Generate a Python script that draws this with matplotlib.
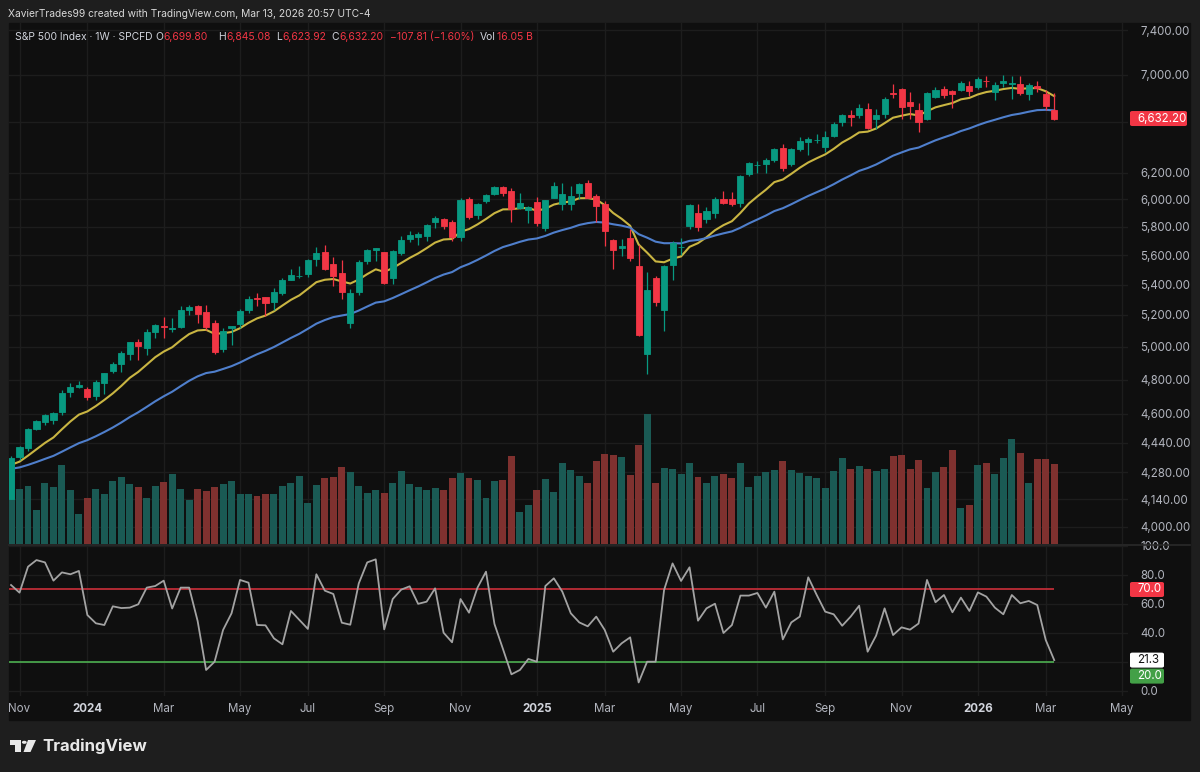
import numpy as np
import pandas as pd
import matplotlib
matplotlib.use("Agg")
import matplotlib.pyplot as plt
from matplotlib.patches import Rectangle, FancyBboxPatch, Circle, Polygon
from matplotlib.ticker import FixedLocator, NullLocator, FixedFormatter
from matplotlib.lines import Line2D

plt.rcParams['font.family'] = ['Inter', 'DejaVu Sans']

# ---------------- data (weekly S&P 500, week starting 2023-10-30) ----------------
start_date = "2023-10-30"
opens = [4140, 4364, 4411, 4515, 4554, 4564, 4610, 4725, 4759, 4745,
         4703, 4782, 4853, 4892, 4957, 5027, 4989, 5093, 5131, 5111,
         5123, 5235, 5258, 5217, 5150, 4988, 5114, 5142, 5233, 5308,
         5315, 5283, 5341, 5432, 5459.6, 5471, 5572, 5620, 5537, 5476,
         5151, 5353, 5557, 5637, 5623, 5442, 5615, 5711, 5726, 5737,
         5833, 5857, 5833, 5725, 6003, 5883, 5992, 6040, 6090, 6063,
         5940, 5920, 5982, 5788, 6014, 5969, 5969, 6050, 6121, 6026,
         5969, 5705, 5647, 5718, 5527, 4954, 5441, 5232, 5529, 5655,
         5807, 5903, 5854, 5897, 6005, 6005, 5970, 6193, 6259, 6268,
         6304, 6397, 6271, 6389, 6445, 6457, 6401, 6490, 6600, 6660,
         6660, 6715, 6625, 6673, 6846, 6875, 6770, 6700, 6632, 6815,
         6877, 6860, 6868, 6905, 6895, 6950, 6857, 6927, 6925, 6920,
         6836, 6902, 6840, 6699.80]
highs = [4366, 4421, 4521, 4568, 4599, 4609, 4739, 4779, 4793, 4755,
         4798, 4842, 4907, 4975, 5030, 5048, 5111, 5140, 5189, 5179,
         5261, 5265, 5265, 5263, 5168, 5114, 5129, 5239, 5325, 5342,
         5315, 5375, 5447, 5505, 5524, 5570, 5655, 5670, 5585, 5566,
         5370, 5563, 5643, 5651, 5623, 5636, 5733, 5767, 5765, 5822,
         5878, 5863, 5850, 6012, 6018, 5976, 6044, 6099, 6100, 6085,
         6049, 5949, 6021, 5997, 6128, 6120, 6101, 6127, 6147, 6044,
         5987, 5712, 5715, 5787, 5670, 5481, 5459, 5534, 5700, 5720,
         5968, 5969, 5944, 6016, 6060, 6059, 6187, 6284, 6290, 6316,
         6395, 6427, 6395, 6481, 6480, 6508, 6532, 6601, 6672, 6699,
         6750, 6764, 6710, 6808, 6920, 6890, 6855, 6760, 6853, 6895,
         6901, 6870, 6945, 6945, 6986, 6990, 6935, 7002, 6990, 6988,
         6930, 6950, 6870, 6845.08]
lows = [4138, 4343, 4394, 4511, 4537, 4546, 4594, 4700, 4751, 4683,
        4682, 4714, 4842, 4845, 4918, 4920, 4946, 5057, 5057, 5091,
        5117, 5203, 5147, 5107, 4953, 4969, 5011, 5115, 5212, 5257,
        5191, 5234, 5328, 5428, 5447, 5448, 5528, 5497, 5390, 5302,
        5119, 5331, 5540, 5561, 5402, 5406, 5604, 5690, 5674, 5696,
        5792, 5786, 5696, 5697, 5853, 5853, 5973, 6030, 6024, 5832,
        5932, 5829, 5809, 5773, 6012, 5923, 5923, 6003, 6008, 5837,
        5666, 5505, 5597, 5558, 5069, 4835, 5259, 5101, 5433, 5599,
        5786, 5767, 5825, 5861, 5963, 5952, 5943, 6174, 6201, 6201,
        6281, 6212, 6254, 6372, 6343, 6432, 6360, 6480, 6570, 6570,
        6640, 6550, 6550, 6640, 6800, 6631, 6631, 6521, 6620, 6800,
        6800, 6720, 6860, 6822, 6880, 6900, 6785, 6900, 6795, 6830,
        6790, 6850, 6700, 6623.92]
closes = [4358, 4415, 4514, 4559, 4595, 4604, 4719, 4755, 4770, 4697,
          4784, 4840, 4891, 4959, 5027, 5006, 5089, 5137, 5124, 5117,
          5234, 5254, 5204, 5123, 4967, 5100, 5128, 5223, 5303, 5305,
          5278, 5347, 5432, 5465, 5460.5, 5567, 5615, 5505, 5459, 5347,
          5344, 5554, 5635, 5648, 5408, 5626, 5703, 5738, 5751, 5815,
          5864, 5808, 5729, 5995, 5870, 5969, 6032, 6090, 6051, 5931,
          5971, 5942, 5827, 5997, 6101, 6040, 6026, 6115, 6013, 5955,
          5770, 5639, 5667, 5581, 5074, 5363, 5283, 5525, 5687, 5660,
          5958, 5802, 5912, 6000, 5977, 5968, 6173, 6279, 6260, 6297,
          6389, 6238, 6389, 6450, 6467, 6460, 6482, 6584, 6664, 6644,
          6716, 6553, 6664, 6792, 6840, 6728, 6734, 6603, 6849, 6870,
          6827, 6840, 6930, 6858, 6966, 6944, 6913, 6944, 6932, 6843,
          6912, 6890, 6740.01, 6632.20]
volume_b = [16.0, 11.0, 11.7, 6.8, 12.2, 11.5, 16.0, 10.9, 6.1, 9.2,
            11.0, 10.0, 12.6, 13.4, 12.1, 11.5, 9.3, 11.7, 12.5, 14.0,
            11.0, 8.8, 11.0, 10.7, 11.5, 12.0, 12.6, 10.1, 10.1, 9.7,
            10.1, 10.0, 11.7, 12.2, 13.7, 8.2, 11.9, 13.2, 13.5, 15.6,
            14.6, 11.7, 10.2, 10.8, 10.3, 12.3, 14.7, 12.0, 11.5, 10.8,
            11.3, 10.9, 13.2, 14.4, 13.2, 12.9, 9.3, 12.6, 12.9, 17.7,
            6.5, 7.9, 10.8, 13.0, 10.5, 16.4, 15.0, 13.7, 12.3, 16.7,
            18.1, 17.9, 17.5, 13.8, 19.9, 26.1, 12.3, 15.4, 15.2, 14.0,
            16.4, 13.4, 12.3, 13.7, 14.0, 13.2, 16.4, 11.5, 13.7, 14.6,
            14.9, 16.7, 14.9, 14.4, 13.7, 13.2, 11.3, 14.7, 17.4, 15.2,
            15.7, 15.2, 14.7, 15.2, 17.7, 17.9, 15.2, 16.9, 11.3, 14.5,
            15.5, 18.9, 7.3, 7.9, 15.9, 16.4, 14.0, 17.4, 21.1, 18.3,
            12.3, 17.2, 17.1, 16.05]
rsi = [73.1, 67.8, 85.7, 90.3, 88.7, 76.1, 81.8, 80.5, 82.8, 52.4,
       46.7, 45.5, 58.4, 57.2, 57.5, 59.8, 71.3, 72.4, 76.1, 56.9,
       71.3, 71.3, 48.3, 14.5, 20.2, 42.1, 53.6, 76.6, 74.7, 45.5,
       45.3, 36.3, 32.2, 55.2, 49.0, 42.8, 80.5, 69.2, 66.9, 47.1,
       45.7, 74.2, 88.7, 90.8, 42.5, 63.4, 69.9, 72.2, 60.1, 61.6,
       70.8, 40.2, 33.6, 63.4, 54.0, 71.3, 82.3, 46.2, 29.0, 11.5,
       14.5, 22.1, 20.2, 72.4, 77.7, 68.5, 53.6, 47.3, 44.6, 51.3,
       42.1, 27.1, 32.9, 37.0, 5.9, 20.2, 20.2, 69.7, 88.0, 75.9,
       85.3, 48.5, 57.0, 60.2, 40.0, 45.5, 65.8, 65.8, 67.6, 57.5,
       68.5, 35.6, 47.3, 51.3, 78.4, 66.2, 54.7, 52.9, 45.0, 51.3,
       58.8, 27.1, 38.2, 57.0, 38.6, 43.9, 42.3, 46.5, 76.6, 61.2,
       66.2, 54.3, 64.4, 55.2, 68.0, 65.1, 57.5, 52.9, 66.2, 60.5,
       62.1, 59.3, 35.2, 21.3]
ema_fast_start = 4319.0   # 10-week EMA value at first bar
ema_slow_start = 4298.0   # 30-week EMA value at first bar

price_ticks = [4000, 4140, 4280, 4440, 4600, 4800, 5000, 5200, 5400, 5600,
               5800, 6000, 6200, 6600, 7000, 7400]
rsi_ticks = [0, 20, 40, 60, 80, 100]
month_labels = ["Nov", "2024", "Mar", "May", "Jul", "Sep", "Nov", "2025",
                "Mar", "May", "Jul", "Sep", "Nov", "2026", "Mar", "May"]
month_dates = ["2023-11-01", "2024-01-01", "2024-03-01", "2024-05-01",
               "2024-07-01", "2024-09-01", "2024-11-01", "2025-01-01",
               "2025-03-01", "2025-05-01", "2025-07-01", "2025-09-01",
               "2025-11-01", "2026-01-01", "2026-03-01", "2026-05-01"]

# ---------------- helpers ----------------
W, H, DPI = 1200, 772, 100
BG = "#0f0f0f"
FRAME = "#1e1e1e"
UP, DN = "#089981", "#f23645"
VUP, VDN = "#1a5a54", "#7f312f"
TXT = "#b2b5be"
LT = "#d1d4dc"


def rect(x0, y0, x1, y1):
    return [x0 / W, 1 - y1 / H, (x1 - x0) / W, (y1 - y0) / H]


def ema(vals, span, first):
    a = 2.0 / (span + 1)
    out = [first]
    for v in vals[1:]:
        out.append(out[-1] + a * (v - out[-1]))
    return np.array(out)


n = len(closes)
x = np.arange(n)
o = np.array(opens, float)
h = np.array(highs, float)
l = np.array(lows, float)
c = np.array(closes, float)
up = c >= o

start = pd.Timestamp(start_date)
tick_pos = np.ceil((pd.to_datetime(month_dates) - start).days.values / 7.0)

fig = plt.figure(figsize=(W / DPI, H / DPI), dpi=DPI)
fig.patch.set_facecolor(FRAME)
fig.add_artist(Rectangle((8.5 / W, 1 - 720 / H), (1190 - 8.5) / W, (720 - 23) / H,
                         transform=fig.transFigure, color=BG, zorder=0))
renderer = fig.canvas.get_renderer()

PL, PR = 8.5, 1128
XLIM = (-0.3, 131.7)
YLIM = (3916, 7465)

# grid / price-scale axes
axg = fig.add_axes(rect(PL, 23, PR, 544))
axg.set_facecolor(BG)
axg.set_yscale("log")
axg.set_xlim(*XLIM)

# volume axes
axv = fig.add_axes(rect(PL, 23, PR, 544), sharex=axg)
axv.set_facecolor("none")
axv.set_ylim(0, 521 * 0.2014)
axv.bar(x, volume_b, width=0.82, color=np.where(up, VUP, VDN), linewidth=0)
axv.set_axis_off()

# price axes
axp = fig.add_axes(rect(PL, 23, PR, 544), sharex=axg, sharey=axg)
axp.set_facecolor("none")
col = np.where(up, UP, DN)
axp.vlines(x, l, h, colors=col, linewidth=0.9, zorder=3)
axp.bar(x, np.abs(c - o), bottom=np.minimum(o, c), width=0.72,
        color=col, edgecolor=col, linewidth=0.6, zorder=4)
axp.plot(x, ema(closes, 10, ema_fast_start), color="#c9b542", lw=1.5, zorder=2)
axp.plot(x, ema(closes, 30, ema_slow_start), color="#4f7fcc", lw=1.5, zorder=2)
axp.set_axis_off()

# configure shared price scale after everything is attached
axg.set_yscale("log")
axg.set_ylim(*YLIM)
axg.set_xlim(*XLIM)
axg.yaxis.set_major_locator(FixedLocator(price_ticks))
axg.yaxis.set_minor_locator(NullLocator())
axg.yaxis.set_major_formatter(FixedFormatter(
    ["" if t == 6600 else f"{t:,.2f}" for t in price_ticks]))
axg.yaxis.tick_right()
axg.tick_params(axis="y", which="both", length=0, pad=9, labelsize=8.3, labelcolor=TXT)
axg.xaxis.set_major_locator(FixedLocator(tick_pos))
axg.xaxis.set_minor_locator(NullLocator())
axg.tick_params(axis="x", which="both", length=0, labelbottom=False)
axg.grid(True, which="major", color="#1d1d1d", linewidth=1)
for s in axg.spines.values():
    s.set_visible(False)

# RSI axes
axr = fig.add_axes(rect(PL, 546, PR, 696))
axr.set_facecolor(BG)
axr.set_ylim(-3.45, 100)
axr.set_xlim(*XLIM)
axr.yaxis.set_major_locator(FixedLocator(rsi_ticks))
axr.yaxis.set_major_formatter(FixedFormatter(
    ["" if t == 20 else f"{t:.1f}" for t in rsi_ticks]))
axr.yaxis.tick_right()
axr.tick_params(axis="y", length=0, pad=9, labelsize=8.3, labelcolor=TXT)
axr.xaxis.set_major_locator(FixedLocator(tick_pos))
axr.xaxis.set_major_formatter(FixedFormatter(month_labels))
axr.tick_params(axis="x", length=0, pad=5, labelsize=8.3, labelcolor=TXT)
for lab in axr.get_xticklabels():
    if lab.get_text().isdigit():
        lab.set_fontweight("bold")
        lab.set_color(LT)
axr.grid(True, color="#1d1d1d", linewidth=1)
for s in axr.spines.values():
    s.set_visible(False)
axr.hlines([70], XLIM[0], x[-1], colors="#cc2f3a", lw=1.2, zorder=3)
axr.hlines([20], XLIM[0], x[-1], colors="#4caf50", lw=1.2, zorder=3)
axr.plot(x, rsi, color="#a3a3a3", lw=1.3, zorder=4)

# separator between panes
fig.add_artist(Line2D([8.5 / W, 1190 / W], [1 - 545 / H] * 2, color="#2a2a2a", lw=1.2))


# value tags on the right scale
def tag(ax, val, text, fc, tc, x1, dy=0):
    yd = ax.transData.transform((0, val))[1] - dy
    y_top_px = H - yd - 7.5
    fig.add_artist(FancyBboxPatch((1130 / W, 1 - (y_top_px + 15) / H),
                                  (x1 - 1130) / W, 15 / H,
                                  boxstyle="round,pad=0,rounding_size=0.002",
                                  transform=fig.transFigure, fc=fc, ec="none", zorder=5))
    fig.text(1137 / W, 1 - (y_top_px + 7.5) / H, text, color=tc, fontsize=8.3,
             va="center", ha="left", zorder=6)


tag(axg, closes[-1], f"{closes[-1]:,.2f}", DN, "white", 1187)
tag(axr, 70, "70.0", DN, "white", 1164)
tag(axr, rsi[-1], f"{rsi[-1]:.1f}", "white", "#131313", 1164)
tag(axr, rsi[-1], "20.0", "#43a047", "white", 1164, dy=16)


def fit_text(xpx, ypx, s, color, target_w, weight="normal", fs0=8.0):
    t = fig.text(xpx / W, 1 - ypx / H, s, color=color, fontsize=fs0,
                 va="center", ha="left", fontweight=weight)
    w = t.get_window_extent(renderer).width
    t.set_fontsize(fs0 * target_w / w)
    return t


# header
fit_text(8.5, 14, "XavierTrades99 created with TradingView.com, Mar 13, 2026 20:57 UTC-4",
         "#d8d8d8", 364)

# legend line
chg = closes[-1] - closes[-2]
pct = chg / closes[-2] * 100
t0 = fit_text(15, 37, "S&P 500 Index · 1W · SPCFD", LT, 139)
fs_leg = t0.get_fontsize()
groups = [
    (155, "O", f"{opens[-1]:,.2f}"),
    (218, "H", f"{highs[-1]:,.2f}"),
    (276, "L", f"{lows[-1]:,.2f}"),
    (331, "C", f"{closes[-1]:,.2f}"),
    (390, "", f"\u2212{abs(chg):.2f} (\u2212{abs(pct):.2f}%)"),
    (480, "Vol", f"{volume_b[-1]:.2f} B"),
]
for gx, lab, val in groups:
    cur = gx
    if lab:
        tl = fig.text(cur / W, 1 - 37 / H, lab, color=LT, fontsize=fs_leg, va="center", ha="left")
        cur += tl.get_window_extent(renderer).width + 1
    fig.text(cur / W, 1 - 37 / H, val, color=DN, fontsize=fs_leg, va="center", ha="left")

# TradingView logo
fig.add_artist(Rectangle((9.5 / W, 1 - 744.5 / H), 11.5 / W, 4.5 / H,
                         transform=fig.transFigure, color="#e8e8e8", lw=0))
fig.add_artist(Rectangle((15 / W, 1 - 752 / H), 6 / W, 12 / H,
                         transform=fig.transFigure, color="#e8e8e8", lw=0))
fig.add_artist(Circle((24.3 / W, 1 - 742.3 / H), 2.4 / W,
                      transform=fig.transFigure, color="#e8e8e8", lw=0))
fig.add_artist(Polygon([(28 / W, 1 - 740 / H), (36 / W, 1 - 740 / H),
                        (30.5 / W, 1 - 752 / H), (23.5 / W, 1 - 752 / H)],
                       closed=True, transform=fig.transFigure, color="#e8e8e8", lw=0))
fit_text(42, 746.5, "TradingView", "#e8e8e8", 105, weight="bold", fs0=12)

fig.savefig("out.png", dpi=DPI, facecolor=FRAME)
